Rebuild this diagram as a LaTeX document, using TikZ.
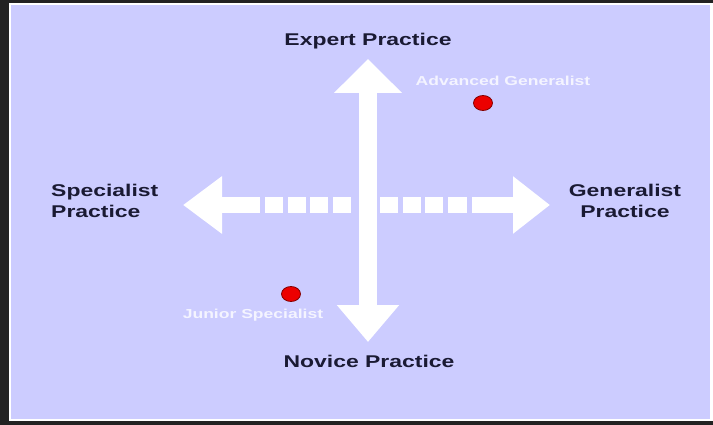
\documentclass[tikz,border=0pt]{standalone}
\usepackage{fontspec}
\newfontfamily\chartfont[FakeStretch=1.35]{Liberation Sans}
\usetikzlibrary{arrows.meta,shapes.geometric}
\definecolor{framedark}{RGB}{34,34,34}
\definecolor{lavender}{RGB}{204,204,255}
\definecolor{inknavy}{RGB}{26,26,51}
\definecolor{tagwhite}{RGB}{244,244,255}
\definecolor{dotred}{RGB}{236,0,0}
\definecolor{dotrim}{RGB}{130,0,0}
\tikzset{
  big/.style={font=\chartfont\bfseries\fontsize{17}{21}\selectfont, text=inknavy, inner sep=0pt},
  tag/.style={font=\chartfont\bfseries\fontsize{13}{15}\selectfont, text=tagwhite, inner sep=0pt},
  dot/.style={ellipse, fill=dotred, draw=dotrim, line width=0.8pt, minimum width=19pt, minimum height=15pt, inner sep=0pt},
  bar/.style={white, line width=16pt},
  pole/.style={white, line width=18pt}
}
\begin{document}
\begin{tikzpicture}[x=1pt,y=-1pt]
  % frame and background
  \fill[framedark] (0,0) rectangle (713,425);
  \fill[white] (9,3) rectangle (713,421);
  \fill[lavender] (11,5) rectangle (710,419);

  % axis ends
  \coordinate (uptip) at (368,59);
  \coordinate (downtip) at (368,342);
  \coordinate (lefttip) at (183,205);
  \coordinate (righttip) at (550,205);
  \coordinate (leftend) at (260,205);
  \coordinate (rightend) at (472,205);

  % horizontal arrow
  \draw[bar, {Triangle[length=39pt,width=55pt]}-] (lefttip) -- (leftend);
  \draw[bar, -{Triangle[length=37pt,width=55pt]}] (rightend) -- (righttip);
  \fill[white] (265,197) rectangle (283,213);
  \fill[white] (287.5,197) rectangle (305.5,213);
  \fill[white] (310,197) rectangle (328,213);
  \fill[white] (332.5,197) rectangle (350.5,213);
  \fill[white] (380,197) rectangle (398,213);
  \fill[white] (402.5,197) rectangle (420.5,213);
  \fill[white] (425,197) rectangle (443,213);
  \fill[white] (448,197) rectangle (466.5,213);

  % vertical arrow
  \draw[pole, {Triangle[length=37pt,width=60pt]}-{Triangle[length=34pt,width=66pt]}] (downtip) -- (uptip);

  % labels
  \node[big, anchor=base] (expert) at (368,46) {Expert Practice};
  \node[big, anchor=base] (novice) at (369,367) {Novice Practice};
  \node[big, anchor=north west, align=left] (specialist) at (51,184) {Specialist\\Practice};
  \node[big, anchor=north, align=center] (generalist) at (625,184) {Generalist\\Practice};

  % positions
  \node[tag, anchor=base] (advanced) at (503,86) {Advanced Generalist};
  \node[dot] (advdot) at (483,103) {};
  \node[tag, anchor=base] (junior) at (253,318) {Junior Specialist};
  \node[dot] (juniordot) at (291,294) {};
\end{tikzpicture}
\end{document}
